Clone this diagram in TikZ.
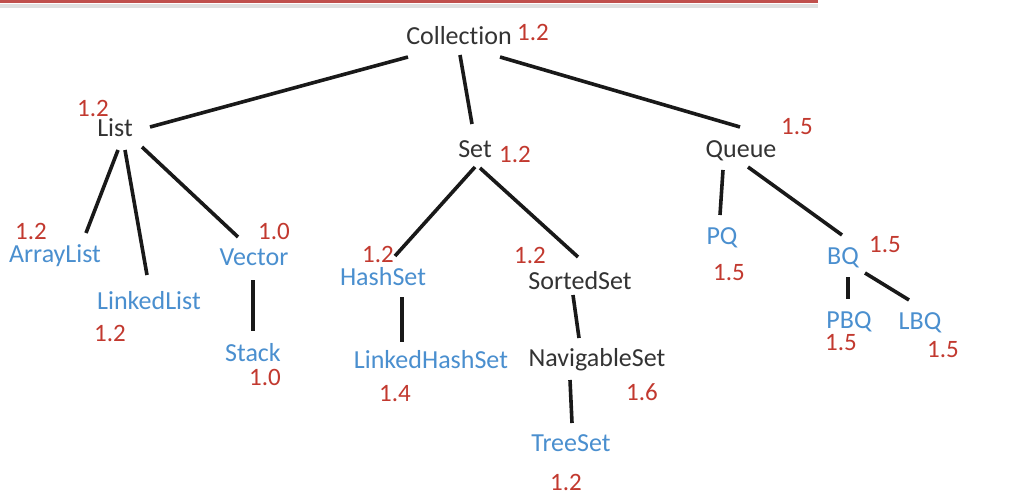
\documentclass[tikz,border=0pt]{standalone}
\usepackage{fontspec}
\setmainfont{Carlito}[Ligatures=NoCommon]
\definecolor{itfgrey}{HTML}{333333}
\definecolor{classblue}{HTML}{4A8FCF}
\definecolor{versred}{HTML}{C2392F}
\definecolor{rulered}{HTML}{C0504D}
\tikzset{
    iface/.style={text=itfgrey, font=\fontsize{26}{30}\selectfont, inner sep=0pt},
    impl/.style={text=classblue, font=\fontsize{26}{30}\selectfont, inner sep=0pt},
    vers/.style={text=versred, font=\fontsize{25}{29}\selectfont, inner sep=0pt},
    edge/.style={line width=3.6pt, black!90}
}
\begin{document}
\begin{tikzpicture}[x=1pt, y=-1pt]
    \useasboundingbox (0, 0) rectangle (1028, 492);
    \fill[white] (0, 0) rectangle (1028, 492);
    \draw[black!12, line width=4pt] (0, 6) -- (818, 6);
    \draw[rulered, line width=3pt] (0, 2) -- (818, 2);

    % interfaces
    \node[iface] (coll)  at (459, 36)  {Collection};
    \node[iface] (list)  at (115, 128) {List};
    \node[iface] (set)   at (475, 149) {Set};
    \node[iface] (queue) at (741, 151) {Queue};
    \node[iface] (sset)  at (580, 281) {SortedSet};
    \node[iface] (nset)  at (597, 360) {NavigableSet};

    % classes
    \node[impl] (alist) at (55, 256)  {ArrayList};
    \node[impl] (llist) at (149, 301) {LinkedList};
    \node[impl] (vect)  at (254, 257) {Vector};
    \node[impl] (stack) at (253, 353) {Stack};
    \node[impl] (hset)  at (383, 277) {HashSet};
    \node[impl] (lhset) at (431, 360) {LinkedHashSet};
    \node[impl] (tset)  at (571, 443) {TreeSet};
    \node[impl] (pq)    at (722, 238) {PQ};
    \node[impl] (bq)    at (843, 258) {BQ};
    \node[impl] (pbq)   at (849, 322) {PBQ};
    \node[impl] (lbq)   at (920, 323) {LBQ};

    % versions
    \node[vers] (v-coll)  at (533, 32)  {1.2};
    \node[vers] (v-list)  at (93, 108)  {1.2};
    \node[vers] (v-set)   at (515, 154) {1.2};
    \node[vers] (v-queue) at (797, 127) {1.5};
    \node[vers] (v-alist) at (31, 231)  {1.2};
    \node[vers] (v-llist) at (110, 333) {1.2};
    \node[vers] (v-vect)  at (274, 231) {1.0};
    \node[vers] (v-stack) at (265, 377) {1.0};
    \node[vers] (v-hset)  at (378, 254) {1.2};
    \node[vers] (v-lhset) at (395, 394) {1.4};
    \node[vers] (v-sset)  at (530, 255) {1.2};
    \node[vers] (v-nset)  at (642, 392) {1.6};
    \node[vers] (v-tset)  at (566, 482) {1.2};
    \node[vers] (v-pq)    at (729, 273) {1.5};
    \node[vers] (v-bq)    at (885, 245) {1.5};
    \node[vers] (v-pbq)   at (841, 343) {1.5};
    \node[vers] (v-lbq)   at (943, 350) {1.5};

    % hierarchy
    \draw[edge] ([shift={(-51, 21)}]coll.center) -- ([shift={(35, -1)}]list.center);
    \draw[edge] ([shift={(1, 19)}]coll.center)   -- ([shift={(-3, -25)}]set.center);
    \draw[edge] ([shift={(41, 21)}]coll.center)  -- ([shift={(-1, -24)}]queue.center);
    \draw[edge] ([shift={(3, 22)}]list.center)   -- ([shift={(31, -23)}]alist.center);
    \draw[edge] ([shift={(10, 22)}]list.center)  -- ([shift={(-2, -26)}]llist.center);
    \draw[edge] ([shift={(27, 19)}]list.center)  -- ([shift={(-16, -20)}]vect.center);
    \draw[edge] ([shift={(-1, 23)}]vect.center)  -- ([shift={(0, -22)}]stack.center);
    \draw[edge] ([shift={(0, 18)}]set.center)    -- ([shift={(12, -21)}]hset.center);
    \draw[edge] ([shift={(5, 19)}]set.center)    -- ([shift={(-2, -24)}]sset.center);
    \draw[edge] ([shift={(19, 20)}]hset.center)  -- ([shift={(-29, -18)}]lhset.center);
    \draw[edge] ([shift={(-7, 14)}]sset.center)  -- ([shift={(-18, -22)}]nset.center);
    \draw[edge] ([shift={(-27, 20)}]nset.center) -- ([shift={(1, -20)}]tset.center);
    \draw[edge] ([shift={(-18, 19)}]queue.center) -- ([shift={(-2, -23)}]pq.center);
    \draw[edge] ([shift={(7, 16)}]queue.center)  -- ([shift={(-1, -23)}]bq.center);
    \draw[edge] ([shift={(5, 19)}]bq.center)     -- ([shift={(-1, -23)}]pbq.center);
    \draw[edge] ([shift={(22, 15)}]bq.center)    -- ([shift={(-11, -23)}]lbq.center);
\end{tikzpicture}
\end{document}
